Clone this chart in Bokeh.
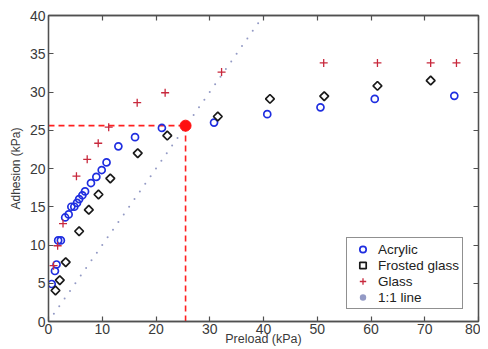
import math
from bokeh.plotting import figure
from bokeh.models import Range1d, LinearAxis, FixedTicker, Legend, LegendItem
from bokeh.embed import file_html
from bokeh.resources import INLINE

# Data (kPa)
acrylic_x = [0.6, 1.2, 1.5, 1.8, 2.3, 3.1, 3.75, 4.25, 4.8, 5.3, 5.7, 6.3, 6.8, 7.9, 8.9, 9.9, 10.8, 13.0, 16.1, 21.1, 30.8, 40.7, 50.6, 60.7, 75.5]
acrylic_y = [4.9, 6.6, 7.45, 10.6, 10.6, 13.6, 14.0, 15.0, 15.0, 15.5, 16.0, 16.5, 17.0, 18.1, 18.9, 19.8, 20.8, 22.9, 24.1, 25.3, 26.0, 27.1, 28.0, 29.1, 29.5]

frosted_x = [1.3, 2.1, 3.2, 5.7, 7.5, 9.3, 11.5, 16.6, 22.1, 31.5, 41.2, 51.3, 61.2, 71.1]
frosted_y = [4.05, 5.4, 7.75, 11.8, 14.6, 16.6, 18.7, 22.0, 24.3, 26.8, 29.1, 29.45, 30.8, 31.5]

glass_x = [0.94, 1.7, 2.7, 5.2, 7.2, 9.25, 11.2, 16.5, 21.7, 32.2, 51.2, 61.2, 71.1, 75.9]
glass_y = [7.3, 9.9, 12.8, 19.0, 21.2, 23.3, 25.4, 28.6, 29.9, 32.6, 33.8, 33.8, 33.8, 33.8]

one_to_one = [float(v) for v in range(0, 41)]

highlight_x = [25.5]
highlight_y = [25.6]

x_ticks = [0, 10, 20, 30, 40, 50, 60, 70, 80]
y_ticks = [0, 5, 10, 15, 20, 25, 30, 35, 40]

x_title = "Preload (kPa)"
y_title = "Adhesion (kPa)"

FONT = "Liberation Sans"
AX = "#505050"
TXT = "#3a3a3a"

p = figure(width=480, height=349, output_backend="svg", toolbar_location=None,
           x_range=Range1d(0, 80), y_range=Range1d(0, 40),
           min_border_left=48, min_border_right=2, min_border_top=15, min_border_bottom=28)
p.xgrid.visible = False
p.ygrid.visible = False
p.outline_line_color = AX
p.outline_line_width = 1.3
p.background_fill_color = "white"
p.border_fill_color = "white"

def style_axis(ax, labels=True):
    ax.axis_line_color = AX
    ax.axis_line_width = 1.3
    ax.major_tick_line_color = AX
    ax.major_tick_line_width = 1.2
    ax.major_tick_in = 5
    ax.major_tick_out = 0
    ax.minor_tick_line_color = None
    ax.major_label_text_font = FONT
    ax.major_label_text_font_size = "14px"
    ax.major_label_text_color = TXT
    ax.axis_label_text_font = FONT
    ax.axis_label_text_font_style = "normal"
    ax.axis_label_text_color = TXT
    if not labels:
        ax.major_label_text_font_size = "0px"
        ax.major_label_text_color = None
        ax.major_label_standoff = 0

p.xaxis.ticker = FixedTicker(ticks=x_ticks)
p.yaxis.ticker = FixedTicker(ticks=y_ticks)
p.xaxis.axis_label = x_title
p.yaxis.axis_label = y_title
style_axis(p.xaxis[0])
style_axis(p.yaxis[0])
p.xaxis.axis_label_text_font_size = "12.5px"
p.yaxis.axis_label_text_font_size = "12px"
p.xaxis.major_label_standoff = 2
p.xaxis.axis_label_standoff = -5
p.yaxis.major_label_standoff = 3
p.yaxis.axis_label_standoff = 4

ra = LinearAxis(ticker=FixedTicker(ticks=y_ticks))
style_axis(ra, labels=False)
p.add_layout(ra, "right")
ta = LinearAxis(ticker=FixedTicker(ticks=x_ticks))
style_axis(ta, labels=False)
p.add_layout(ta, "above")

# 1:1 line
r_line = p.scatter(one_to_one, one_to_one, marker="circle", size=2.0,
                   fill_color="#8088bb", fill_alpha=0.85, line_color=None)

# dashed guide lines to highlighted point
p.segment(x0=[0], y0=highlight_y, x1=highlight_x, y1=highlight_y,
          line_color="#ff2020", line_width=1.6, line_dash="6 4")
p.segment(x0=highlight_x, y0=[0], x1=highlight_x, y1=highlight_y,
          line_color="#ff2020", line_width=1.6, line_dash="6 4")

r_ac = p.scatter(acrylic_x, acrylic_y, marker="circle", size=7,
                 fill_color=None, line_color="#1f2ee0", line_width=1.7)
r_fr = p.scatter(frosted_x, frosted_y, marker="square", size=6.2, angle=math.pi / 4,
                 fill_color=None, line_color="#1a1a1a", line_width=1.7)
r_gl = p.scatter(glass_x, glass_y, marker="cross", size=8,
                 line_color="#c8283c", line_width=1.3)

p.scatter(highlight_x, highlight_y, marker="circle", size=11,
          fill_color="#ff1010", line_color="#ff1010")

legend = Legend(items=[
    LegendItem(label="Acrylic", renderers=[r_ac]),
    LegendItem(label="Frosted glass", renderers=[r_fr]),
    LegendItem(label="Glass", renderers=[r_gl]),
    LegendItem(label="1:1 line", renderers=[r_line]),
], location=(298, 12))
legend.label_text_font = FONT
legend.label_text_font_size = "13.5px"
legend.label_text_color = "#222222"
legend.label_height = 16
legend.glyph_height = 16
legend.glyph_width = 25
legend.label_standoff = 3
legend.spacing = 0
legend.padding = 3
legend.margin = 0
legend.border_line_color = "#222222"
legend.border_line_width = 1.2
legend.background_fill_alpha = 1
p.add_layout(legend, "center")

open("out.html", "w").write(file_html(p, INLINE))
